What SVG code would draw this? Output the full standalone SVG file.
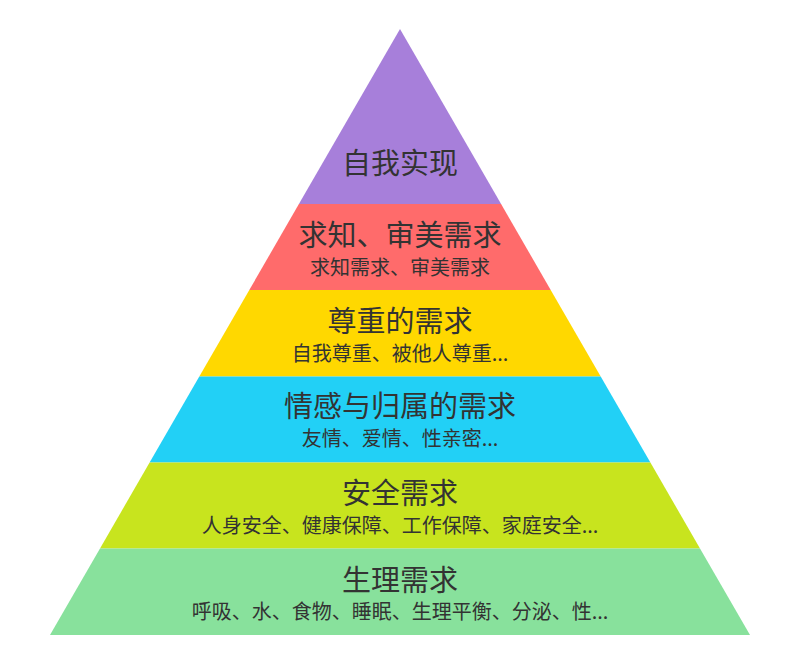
<svg xmlns="http://www.w3.org/2000/svg" width="800" height="664" viewBox="0 0 800 664">
<style>
.t{font-family:"Noto Sans CJK SC","Noto Sans",sans-serif;fill:#333;text-anchor:middle}
.h{font-size:29px}
.s{font-size:20px}
</style>
<rect width="800" height="664" fill="#fff"/>
<g id="level6">
<polygon points="400,29 501.1,204 298.9,204" fill="#A77FDA"/>
<text class="t h" x="400" y="174">自我实现</text>
</g>
<g id="level5">
<polygon points="298.9,204 501.1,204 550.7,290 249.3,290" fill="#FF6B6B"/>
<text class="t h" x="400" y="246">求知、审美需求</text>
<text class="t s" x="400" y="275">求知需求、审美需求</text>
</g>
<g id="level4">
<polygon points="249.3,290 550.7,290 600.7,376.5 199.3,376.5" fill="#FFD800"/>
<text class="t h" x="400" y="332">尊重的需求</text>
<text class="t s" x="400" y="361">自我尊重、被他人尊重...</text>
</g>
<g id="level3">
<polygon points="199.3,376.5 600.7,376.5 650.4,462.5 149.6,462.5" fill="#22D0F6"/>
<text class="t h" x="400" y="417">情感与归属的需求</text>
<text class="t s" x="400" y="446">友情、爱情、性亲密...</text>
</g>
<g id="level2">
<polygon points="149.6,462.5 650.4,462.5 700,548.5 100,548.5" fill="#C8E41E"/>
<text class="t h" x="400" y="504">安全需求</text>
<text class="t s" x="400" y="533">人身安全、健康保障、工作保障、家庭安全...</text>
</g>
<g id="level1">
<polygon points="100,548.5 700,548.5 750,635 50,635" fill="#88E19C"/>
<text class="t h" x="400" y="591">生理需求</text>
<text class="t s" x="400" y="619">呼吸、水、食物、睡眠、生理平衡、分泌、性...</text>
</g>
<g id="connectors"/>
</svg>
